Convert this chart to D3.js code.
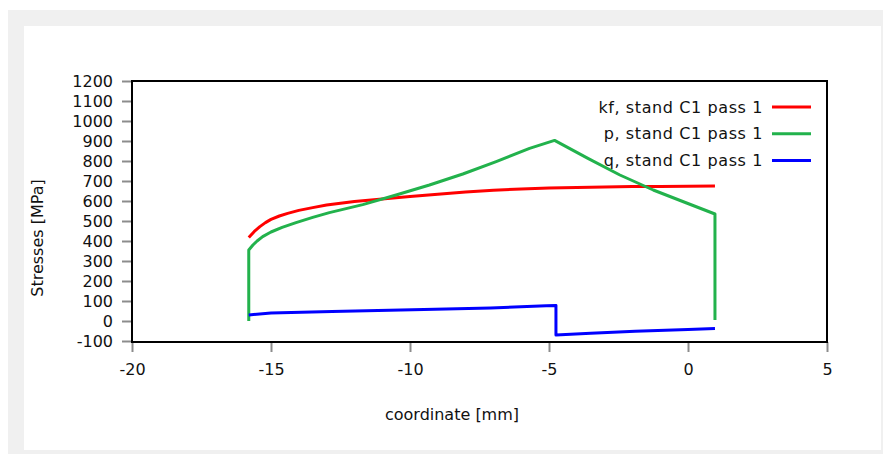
<!DOCTYPE html>
<html><head><meta charset="utf-8">
<script src="https://cdn.jsdelivr.net/npm/d3@7"></script>
<style>
html,body{margin:0;padding:0;background:#fff;}
svg text{font-family:"DejaVu Sans",Verdana,sans-serif;font-size:16px;fill:#111;}
</style></head><body>
<svg id="chart" width="883" height="454"></svg>
<script>
// ---- data ----
const xTicks = [-20, -15, -10, -5, 0, 5];
const yTicks = [-100,0,100,200,300,400,500,600,700,800,900,1000,1100,1200];
const seriesNames = ["kf, stand C1 pass 1", "p, stand C1 pass 1", "q, stand C1 pass 1"];
const seriesColors = ["#ff0000", "#22b24c", "#0000ff"];

const kfX = [-15.8,-15.6,-15.4,-15.2,-15.0,-14.7,-14.4,-14.0,-13.5,-13.0,-12.0,-11.0,-10.0,-9.0,-8.0,-7.0,-6.0,-5.0,-4.0,-3.0,-2.0,-1.0,0.0,0.97];
const kfY = [418,448,472,492,508,525,538,553,567,580,598,610,622,634,645,654,660,665,668,670,672,673,674,675];

const pX = [-15.8,-15.8,-15.65,-15.5,-15.3,-15.0,-14.6,-14.1,-13.5,-12.9,-11.7,-10.5,-9.3,-8.1,-6.9,-5.7,-4.8,-3.6,-2.45,-1.25,-0.05,0.97,0.97];
const pY = [0,355,380,400,422,445,468,492,518,542,582,630,680,735,797,863,903,813,730,655,590,535,5];

const qX = [-15.8,-15.0,-12.8,-9.5,-7.1,-5.1,-4.75,-4.75,-3.5,-1.9,0.0,0.97];
const qY = [30,40,48,57,65,76,78,-70,-61,-51,-42,-38];

const xLabel = "coordinate [mm]";
const yLabel = "Stresses [MPa]";

// ---- drawing ----
const svg = d3.select("#chart");
svg.append("rect").attr("x",8).attr("y",10).attr("width",875).attr("height",444).attr("fill","#f0f0f0");
svg.append("rect").attr("x",24).attr("y",26).attr("width",857).attr("height",424).attr("fill","#ffffff");

const L = 132, R = 827, T = 81, B = 341;
const x = d3.scaleLinear().domain([-20, 5]).range([L, R]);
const y = d3.scaleLinear().domain([-100, 1200]).range([B, T]);
const fmt = d => String(d);

// axes
const gy = svg.append("g").attr("transform", `translate(${L},0)`)
  .call(d3.axisLeft(y).tickValues(yTicks).tickSize(10).tickPadding(9).tickFormat(fmt));
const gx = svg.append("g").attr("transform", `translate(0,${B+1})`)
  .call(d3.axisBottom(x).tickValues(xTicks).tickSize(10).tickPadding(12).tickFormat(fmt));
[gy, gx].forEach(g => {
  g.select(".domain").remove();
  g.selectAll(".tick line").attr("stroke", "#8c8c8c").attr("stroke-width", 2);
  g.selectAll(".tick text").style("font-size", "16px").attr("fill", "#111");
});

// frame
svg.append("rect").attr("x", L).attr("y", T).attr("width", R - L).attr("height", B - T + 1)
  .attr("fill", "none").attr("stroke", "#000").attr("stroke-width", 2);

// series
const series = [
  {x: kfX, y: kfY},
  {x: pX, y: pY},
  {x: qX, y: qY}
];
const line = d3.line().x(d => x(d[0])).y(d => y(d[1]));
series.forEach((s, i) => {
  const pts = s.x.map((v, j) => [v, s.y[j]]);
  svg.append("path").datum(pts).attr("d", line)
    .attr("fill", "none").attr("stroke", seriesColors[i]).attr("stroke-width", 3)
    .attr("stroke-linejoin", "round");
});

// legend
seriesNames.forEach((n, i) => {
  const yy = 107 + i * 26.7;
  svg.append("text").attr("x", 763).attr("y", yy).attr("text-anchor", "end")
    .attr("dominant-baseline", "central").style("letter-spacing", "0.6px").text(n);
  svg.append("line").attr("x1", 772).attr("x2", 811).attr("y1", yy).attr("y2", yy)
    .attr("stroke", seriesColors[i]).attr("stroke-width", 3);
});

// axis titles (centred on the white panel)
svg.append("text").attr("x", 452).attr("y", 414).attr("text-anchor", "middle")
  .attr("dominant-baseline", "central").text(xLabel);
svg.append("text").attr("transform", `translate(37,238) rotate(-90)`)
  .attr("text-anchor", "middle").attr("dominant-baseline", "central").text(yLabel);
</script>
</body></html>
